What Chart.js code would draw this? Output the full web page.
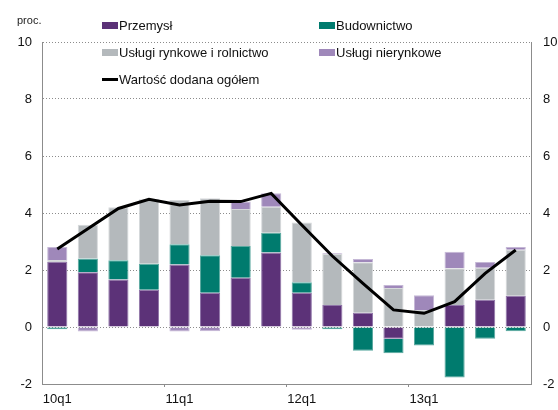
<!DOCTYPE html>
<html>
<head>
<meta charset="utf-8">
<script src="https://cdn.jsdelivr.net/npm/chart.js@4"></script>
<style>
    html, body { margin: 0; padding: 0; background: #fff; }
    #wrap { position: relative; width: 558px; height: 410px; font-family: "Liberation Sans", Arial, sans-serif; }
    #chart { position: absolute; left: 0; top: 0; }
    .unit { position: absolute; left: 17px; top: 14px; font-size: 11px; color: #222; }
    .leg { position: absolute; font-size: 13px; color: #111; line-height: 16px; white-space: nowrap; }
    .leg i { display: inline-block; width: 16px; height: 7px; vertical-align: middle; margin-right: 1px; position: relative; top: -1px; }
    .leg i.line { height: 3px; background: #000; }
</style>
</head>
<body>
<div id="wrap">
    <canvas id="chart" width="558" height="410"></canvas>
    <div class="unit">proc.</div>
    <div class="leg" style="left:102px; top:18px;"><i style="background:#5c3278"></i>Przemysł</div>
    <div class="leg" style="left:319px; top:18px;"><i style="background:#007b6e"></i>Budownictwo</div>
    <div class="leg" style="left:102px; top:45px;"><i style="background:#b4b9bc"></i>Usługi rynkowe i rolnictwo</div>
    <div class="leg" style="left:319px; top:45px;"><i style="background:#9f88ba"></i>Usługi nierynkowe</div>
    <div class="leg" style="left:102px; top:72px;"><i class="line"></i>Wartość dodana ogółem</div>
</div>
<script>
// kwartały
const quarters = ['10q1', '10q2', '10q3', '10q4', '11q1', '11q2', '11q3', '11q4',
                  '12q1', '12q2', '12q3', '12q4', '13q1', '13q2', '13q3', '13q4'];

// wkłady do wzrostu wartości dodanej (pp)
const przemysl    = [2.29, 1.92, 1.67, 1.31, 2.19, 1.20, 1.73, 2.61, 1.20, 0.77, 0.50, -0.41, 0.00, 0.77, 0.96, 1.10];
const budownictwo = [-0.08, 0.48, 0.67, 0.91, 0.71, 1.32, 1.11, 0.70, 0.37, -0.08, -0.83, -0.51, -0.65, -1.77, -0.41, -0.15];
const rynkowe     = [0.06, 1.19, 1.86, 2.26, 1.56, 2.00, 1.30, 0.91, 2.10, 1.79, 1.77, 1.37, 0.60, 1.29, 1.12, 1.61];
const nierynkowe  = [0.46, -0.16, -0.03, 0.00, -0.16, -0.15, 0.26, 0.47, -0.10, 0.03, 0.12, 0.10, 0.51, 0.58, 0.20, 0.10];
const ogolem      = [2.74, 3.45, 4.16, 4.48, 4.28, 4.41, 4.40, 4.69, 3.58, 2.49, 1.53, 0.60, 0.48, 0.89, 1.88, 2.70];

const yTicks = [-2, 0, 2, 4, 6, 8, 10];

const dotted = [1, 2];
const gridColor = '#8c8c8c';

function bar(label, data, color, border) {
    return {
        type: 'bar', label, data, stack: 'bars',
        backgroundColor: color, borderColor: border, borderWidth: 1,
        barPercentage: 0.66, categoryPercentage: 1, order: 2
    };
}

new Chart(document.getElementById('chart'), {
    data: {
        labels: quarters,
        datasets: [
            {
                type: 'line', label: 'Wartość dodana ogółem', data: ogolem, stack: 'line',
                borderColor: '#000', borderWidth: 3, pointRadius: 0, tension: 0, order: 1
            },
            bar('Przemysł', przemysl, '#5c3278', '#8f74a8'),
            bar('Budownictwo', budownictwo, '#007b6e', '#5aa89f'),
            bar('Usługi rynkowe i rolnictwo', rynkowe, '#b4b9bc', '#d6d9db'),
            bar('Usługi nierynkowe', nierynkowe, '#9f88ba', '#c5b8d6')
        ]
    },
    options: {
        responsive: false,
        animation: false,
        layout: { padding: { top: 42, left: 0, right: 0, bottom: 0 } },
        plugins: { legend: { display: false }, tooltip: { enabled: false } },
        scales: {
            x: {
                stacked: true,
                afterFit: s => { s.height = 26; },
                grid: {
                    offset: true, drawOnChartArea: false, tickLength: 3,
                    color: c => (c.index % 4 === 0 && c.index > 0) ? gridColor : 'rgba(0,0,0,0)'
                },
                border: { display: true, color: gridColor, dash: dotted },
                ticks: {
                    autoSkip: false, maxRotation: 0, padding: 5,
                    color: '#111', font: { family: 'Liberation Sans', size: 13 },
                    callback: (v, i) => i % 4 === 0 ? quarters[i] : ''
                }
            },
            y: {
                stacked: true, position: 'left', min: -2, max: 10,
                afterFit: s => { s.width = 42; },
                afterBuildTicks: s => { s.ticks = yTicks.map(v => ({ value: v })); },
                grid: { color: gridColor, drawTicks: false, lineWidth: 1 },
                border: { display: true, color: gridColor, dash: dotted },
                ticks: { padding: 10, color: '#111', font: { family: 'Liberation Sans', size: 13 } }
            },
            y2: {
                position: 'right', min: -2, max: 10,
                afterFit: s => { s.width = 27; },
                afterBuildTicks: s => { s.ticks = yTicks.map(v => ({ value: v })); },
                grid: { drawOnChartArea: false, drawTicks: false },
                border: { display: true, color: gridColor, dash: dotted },
                ticks: { padding: 12, color: '#111', font: { family: 'Liberation Sans', size: 13 } }
            }
        }
    }
});
</script>
</body>
</html>
